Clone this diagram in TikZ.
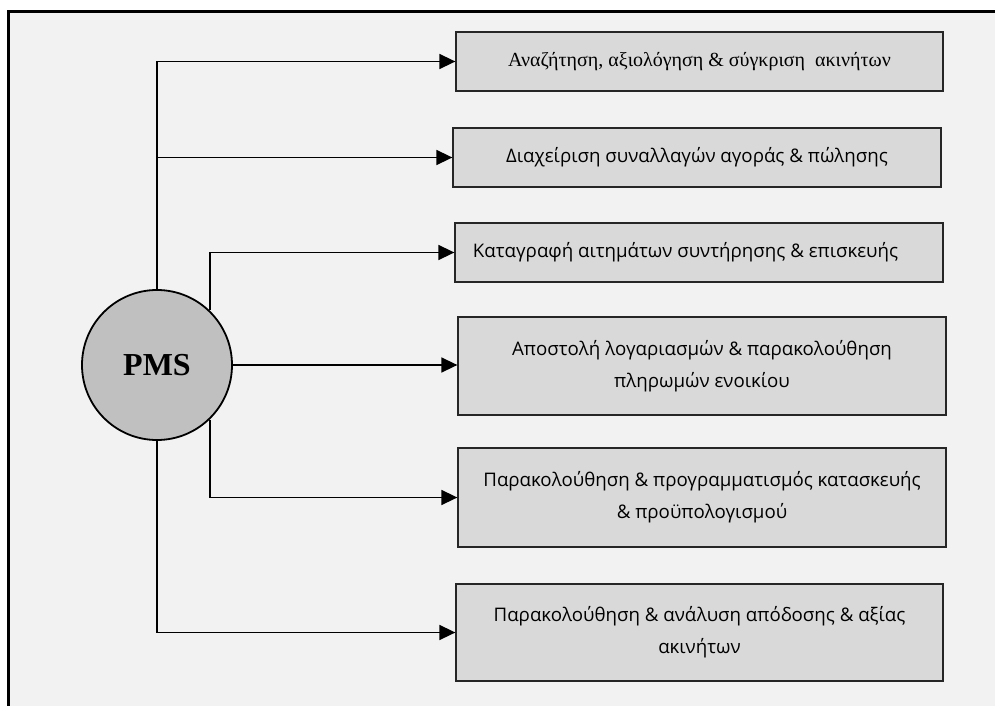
\documentclass[tikz,border=0pt]{standalone}
\usepackage{fontspec}
\setmainfont{Liberation Serif}
\newfontfamily\serifbox{Liberation Serif}
\newfontfamily\boxfont{Open Sans}
\usetikzlibrary{arrows.meta}
\definecolor{panel}{HTML}{F2F2F2}
\definecolor{boxfill}{HTML}{D9D9D9}
\definecolor{hubfill}{HTML}{C0C0C0}
\tikzset{
  task/.style={draw=black!85, line width=1.3pt, fill=boxfill, inner sep=0pt,
    align=center, font=\boxfont\fontsize{18.7}{32}\selectfont},
  hub/.style={circle, draw=black, line width=1.8pt, fill=hubfill,
    minimum size=150pt, inner sep=0pt, font=\serifbox\bfseries\fontsize{32}{36}\selectfont},
  link/.style={draw=black, line width=1.6pt, -{Triangle[length=16pt,width=15pt]}}
}
\begin{document}
\begin{tikzpicture}[x=1pt,y=-1pt]
\useasboundingbox (0,0) rectangle (995,706);
% panel frame (runs past the right and bottom edges)
\draw[line width=3pt, fill=panel] (8,12) rectangle (1010,720);

% central hub
\node[hub] (pms) at (157,365) {PMS};

% task boxes
\node[task, minimum width=487pt, minimum height=59pt,
  font=\serifbox\fontsize{20}{24}\selectfont] (b1) at (699.5,61.5)
  {Αναζήτηση, αξιολόγηση \& σύγκριση \ ακινήτων};
\node[task, minimum width=488pt, minimum height=59pt] (b2) at (697,157.5)
  {Διαχείριση συναλλαγών αγοράς \& πώλησης};
\node[task, minimum width=488pt, minimum height=59pt] (b3) at (699,252.5)
  {Καταγραφή αιτημάτων συντήρησης \& επισκευής\hspace*{27pt}};
\node[task, minimum width=488pt, minimum height=98pt] (b4) at (702,366)
  {Αποστολή λογαριασμών \& παρακολούθηση\\πληρωμών ενοικίου};
\node[task, minimum width=488pt, minimum height=99pt] (b5) at (702,497.5)
  {Παρακολούθηση \& προγραμματισμός κατασκευής\\\& προϋπολογισμού};
\node[task, minimum width=487pt, minimum height=97pt] (b6) at (699.5,632.5)
  {Παρακολούθηση \& ανάλυση απόδοσης \& αξίας\\ακινήτων};

% connectors
\draw[link] (pms.north) |- (b1.west);
\draw[link] (pms.north |- b2.west) -- (b2.west);
\draw[link] (pms.46) |- (b3.west);
\draw[link] (pms.east) -- (pms.east -| b4.west);
\draw[link] (pms.-46) |- (b5.west);
\draw[link] (pms.south) |- (b6.west);
\end{tikzpicture}
\end{document}
